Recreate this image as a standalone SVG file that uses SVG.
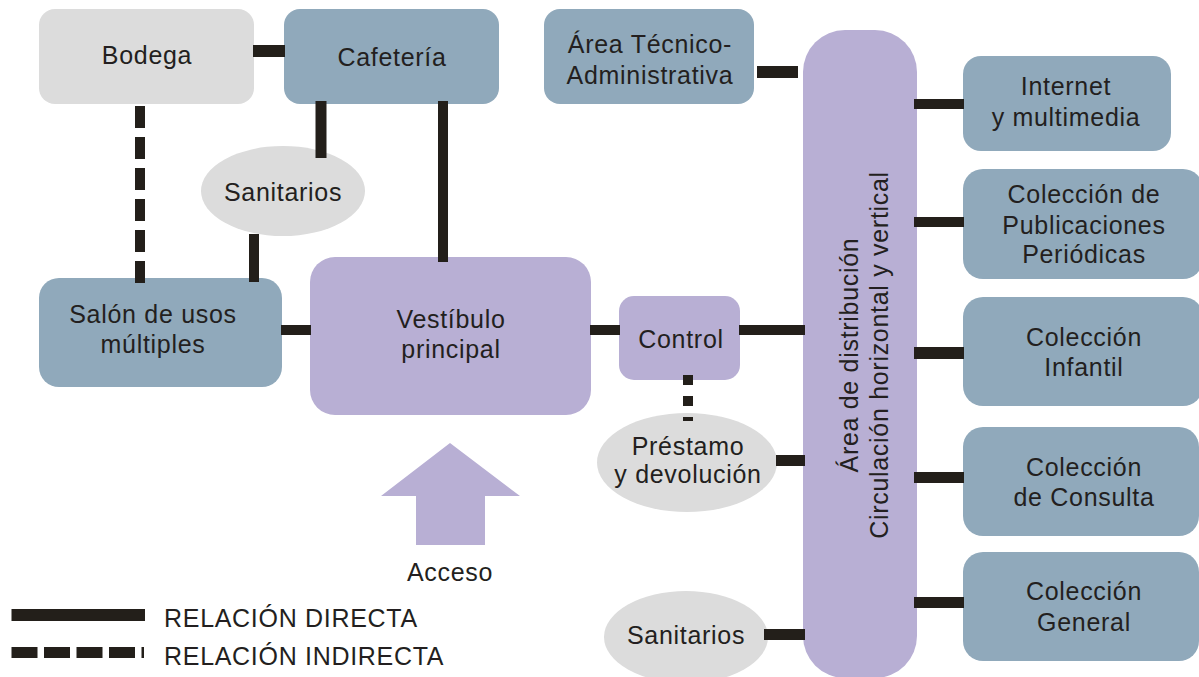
<svg xmlns="http://www.w3.org/2000/svg" width="1199" height="677" viewBox="0 0 1199 677">
<style>
.blue{fill:#90a9bb}
.lav{fill:#b8afd4}
.gray{fill:#dcdcdc}
text{font-family:"Liberation Sans",Arial,sans-serif;font-size:25px;fill:#231f20;text-anchor:middle;letter-spacing:0.7px}
.lg{text-anchor:start}
.c{stroke:#231f1a;fill:none}
</style>
<rect width="1199" height="677" fill="#ffffff"/>
<g id="bodega"><rect class="gray" x="39" y="9" width="215" height="95" rx="16"/><text x="147" y="64">Bodega</text></g>
<g id="cafeteria"><rect class="blue" x="284" y="9" width="215" height="95" rx="16"/><text x="392" y="66">Cafetería</text></g>
<g id="sanitarios1"><ellipse class="gray" cx="283" cy="191" rx="82" ry="45"/><text x="283" y="201">Sanitarios</text></g>
<g id="salon"><rect class="blue" x="39" y="278" width="243" height="109" rx="20"/><text x="153" y="323">Salón de usos</text><text x="153" y="353">múltiples</text></g>
<g id="vestibulo"><rect class="lav" x="310" y="257" width="281" height="158" rx="25"/><text x="451" y="328">Vestíbulo</text><text x="451" y="358">principal</text></g>
<g id="acceso"><polygon class="lav" points="450,443 520,496 485,496 485,545 416,545 416,496 381,496"/><text x="450" y="581">Acceso</text></g>
<g id="area-tecnico"><rect class="blue" x="544" y="9" width="210" height="95" rx="16"/><text x="650" y="53">Área Técnico-</text><text x="650" y="84">Administrativa</text></g>
<g id="control"><rect class="lav" x="619" y="296" width="121" height="84" rx="15"/><text x="681" y="348">Control</text></g>
<g id="prestamo"><ellipse class="gray" cx="687" cy="462.5" rx="90" ry="49.5"/><text x="688" y="455">Préstamo</text><text x="688" y="483">y devolución</text></g>
<g id="sanitarios2"><ellipse class="gray" cx="686" cy="637" rx="82" ry="46"/><text x="686" y="644">Sanitarios</text></g>
<g id="distribucion"><rect class="lav" x="803" y="30" width="114" height="648" rx="42"/><g transform="translate(860,355) rotate(-90)"><text x="0" y="-2">Área de distribución</text><text x="0" y="28">Circulación horizontal y vertical</text></g></g>
<g id="internet"><rect class="blue" x="963" y="56" width="208" height="95" rx="18"/><text x="1066" y="95">Internet</text><text x="1066" y="126">y multimedia</text></g>
<g id="publicaciones"><rect class="blue" x="963" y="169" width="240" height="110" rx="20"/><text x="1084" y="203">Colección de</text><text x="1084" y="234">Publicaciones</text><text x="1084" y="263">Periódicas</text></g>
<g id="infantil"><rect class="blue" x="963" y="297" width="240" height="109" rx="20"/><text x="1084" y="346">Colección</text><text x="1084" y="376">Infantil</text></g>
<g id="consulta"><rect class="blue" x="963" y="427" width="236" height="109" rx="20"/><text x="1084" y="476">Colección</text><text x="1084" y="506">de Consulta</text></g>
<g id="general"><rect class="blue" x="963" y="552" width="236" height="109" rx="20"/><text x="1084" y="600">Colección</text><text x="1084" y="631">General</text></g>
<g id="connectors" class="c">
<line x1="253" y1="51" x2="285" y2="51" stroke-width="12"/>
<line x1="321" y1="101" x2="321" y2="158" stroke-width="11"/>
<line x1="443" y1="101" x2="443" y2="262" stroke-width="10"/>
<line x1="254" y1="234" x2="254" y2="282" stroke-width="10"/>
<line x1="140" y1="106" x2="140" y2="286" stroke-width="10" stroke-dasharray="22 9"/>
<line x1="281" y1="330" x2="311" y2="330" stroke-width="10"/>
<line x1="590" y1="330" x2="620" y2="330" stroke-width="10"/>
<line x1="739" y1="330" x2="805" y2="330" stroke-width="10"/>
<line x1="688" y1="375" x2="688" y2="421" stroke-width="10" stroke-dasharray="10 11"/>
<line x1="776" y1="460.5" x2="805" y2="460.5" stroke-width="11"/>
<line x1="764" y1="634.5" x2="805" y2="634.5" stroke-width="11"/>
<line x1="757" y1="72" x2="798" y2="72" stroke-width="12"/>
<line x1="914" y1="104" x2="964" y2="104" stroke-width="10"/>
<line x1="914" y1="222" x2="964" y2="222" stroke-width="10"/>
<line x1="914" y1="353" x2="964" y2="353" stroke-width="12"/>
<line x1="914" y1="477.5" x2="964" y2="477.5" stroke-width="11"/>
<line x1="914" y1="602.5" x2="964" y2="602.5" stroke-width="11"/>
</g>
<g id="legend">
<line class="c" x1="11.5" y1="615" x2="145" y2="615" stroke-width="12"/>
<text class="lg" x="164" y="627">RELACIÓN DIRECTA</text>
<line class="c" x1="11.5" y1="652.5" x2="144" y2="652.5" stroke-width="11" stroke-dasharray="26 6.5"/>
<text class="lg" x="164" y="665">RELACIÓN INDIRECTA</text>
</g>
</svg>
